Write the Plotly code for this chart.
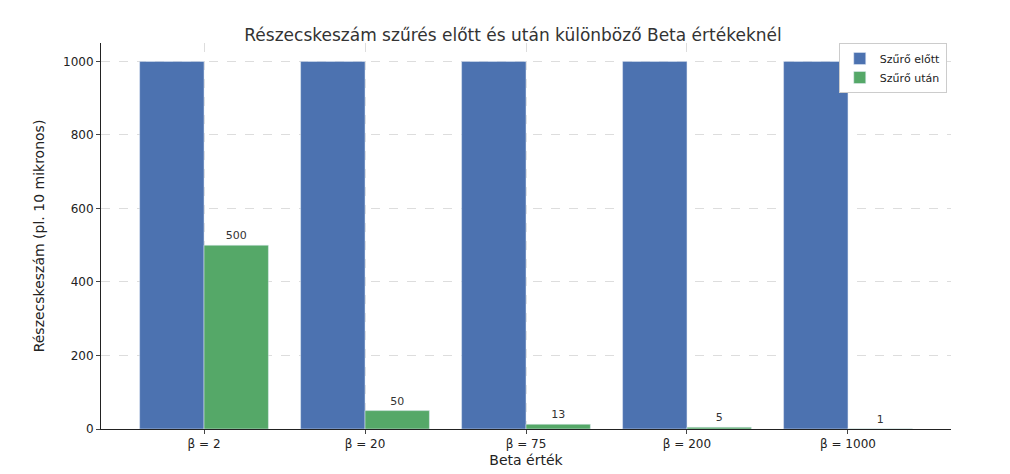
import plotly.graph_objects as go

categories = ["β = 2", "β = 20", "β = 75", "β = 200", "β = 1000"]
before = [1000, 1000, 1000, 1000, 1000]
after = [500, 50, 13, 5, 1]

fig = go.Figure()
fig.add_bar(x=categories, y=before, name="Szűrő előtt", marker_color="#4c72b0")
fig.add_bar(x=categories, y=after, name="Szűrő után", marker_color="#55a868",
            text=[str(v) for v in after], textposition="outside",
            textfont=dict(size=11, color="#333"), cliponaxis=False)
fig.update_layout(
    width=1010, height=474, barmode="group", bargap=0.2, bargroupgap=0,
    plot_bgcolor="white", paper_bgcolor="white",
    font=dict(family="DejaVu Sans", size=12, color="#222"),
    title=dict(text="Részecskeszám szűrés előtt és után különböző Beta értékeknél",
               x=0.5, xanchor="center", y=0.955, font=dict(size=17, color="#333")),
    margin=dict(l=93, r=67, t=35, b=53),
    legend=dict(x=0.995, y=1.0, xanchor="right", yanchor="top", bgcolor="white",
                bordercolor="#ccc", borderwidth=1, font=dict(size=11)),
    xaxis=dict(title=dict(text="Beta érték", standoff=4), range=[-0.64, 4.64],
               showline=True, linecolor="#222", ticks="outside", ticklen=4,
               showgrid=True, gridcolor="#ddd", griddash="dash", gridwidth=0.8),
    yaxis=dict(title=dict(text="Részecskeszám (pl. 10 mikronos)"), range=[0, 1050],
               tickvals=[0, 200, 400, 600, 800, 1000],
               showline=True, linecolor="#222", ticks="outside", ticklen=4,
               showgrid=True, gridcolor="#ddd", griddash="dash", gridwidth=0.8,
               zeroline=False),
)
fig.write_html("out.html")
